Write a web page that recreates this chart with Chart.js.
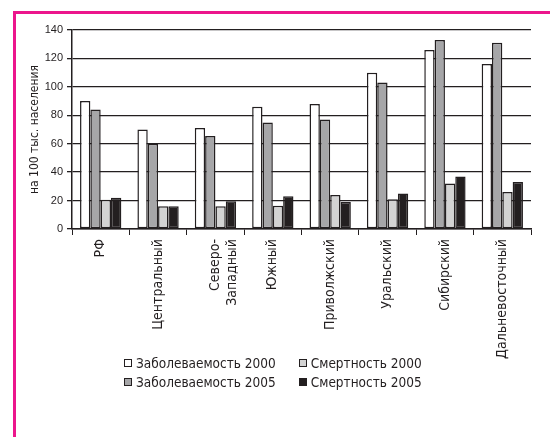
<!DOCTYPE html>
<html>
<head>
<meta charset="utf-8">
<script src="https://cdn.jsdelivr.net/npm/chart.js@4"></script>
<style>
    html, body { margin: 0; padding: 0; background: #fff; }
    .frame {
        position: absolute; left: 13px; top: 11px; right: 0; bottom: 0;
        border-left: 3px solid #ec168c; border-top: 3px solid #ec168c;
    }
    #wrap { position: absolute; left: 0; top: 0; width: 550px; height: 437px; }
    #legend {
        position: absolute; left: 124px; top: 354px;
        display: grid; grid-template-columns: auto auto; column-gap: 23px;
        font: 13.5px 'DejaVu Sans Condensed', sans-serif; color: #231f20; line-height: 19px;
    }
    .leg-item { display: flex; align-items: center; white-space: nowrap; }
    .leg-box { width: 6px; height: 6px; border: 1px solid #231f20; margin-right: 4px; margin-top: -2px; }
</style>
</head>
<body>
<div class="frame"></div>
<div id="wrap"><canvas id="chart"></canvas></div>
<div id="legend"></div>
<script>
// Федеральные округа
const regions = ['РФ', 'Центральный', ['Северо-', 'Западный'], 'Южный', 'Приволжский', 'Уральский', 'Сибирский', 'Дальневосточный'];

// на 100 тыс. населения
const morbidity2000 = [90, 70, 71, 86, 88, 110, 126, 116];
const morbidity2005 = [84, 60, 65.5, 75, 77, 103, 133, 131];
const mortality2000 = [20.5, 16, 16, 16.3, 24, 21, 32, 26];
const mortality2005 = [22, 16, 19.5, 23, 19, 25, 37, 33];

const yTicks = [0, 20, 40, 60, 80, 100, 120, 140];

const condensed = "'DejaVu Sans Condensed', sans-serif";
const ink = '#231f20';

// legend goes column-wise: 2000 on the first row, 2005 on the second
const legendOrder = [0, 2, 1, 3];

let chart;

function initChart() {
    const ds = (label, data, color) => ({
        label: label, data: data, backgroundColor: color,
        borderColor: ink, borderWidth: 1.5, borderSkipped: false
    });

    chart = new Chart(document.getElementById('chart'), {
        type: 'bar',
        data: {
            labels: regions,
            datasets: [
                ds('Заболеваемость 2000', morbidity2000, '#ffffff'),
                ds('Заболеваемость 2005', morbidity2005, '#a6a6a8'),
                ds('Смертность 2000', mortality2000, '#d3d3d3'),
                ds('Смертность 2005', mortality2005, '#231f20')
            ]
        },
        options: {
            responsive: true, maintainAspectRatio: false, animation: false,
            layout: { padding: { left: 24, right: 19, top: 30, bottom: 0 } },
            datasets: { bar: { categoryPercentage: 0.72, barPercentage: 1 } },
            plugins: {
                tooltip: { enabled: false },
                legend: { display: false }
            },
            scales: {
                x: {
                    grid: { display: true, drawOnChartArea: false, offset: true, color: ink, tickLength: 6 },
                    border: { color: ink, width: 1.5 },
                    ticks: { color: ink, maxRotation: 90, minRotation: 90, padding: 4, font: { family: condensed, size: 14 } },
                    afterFit: s => { s.height = 208; }
                },
                y: {
                    min: 0, max: 140,
                    afterBuildTicks: s => { s.ticks = yTicks.map(v => ({ value: v })); },
                    grid: { color: ink, lineWidth: 1.3, tickLength: 5 },
                    border: { color: ink, width: 1.5 },
                    ticks: { color: ink, padding: 4, font: { family: "'Liberation Sans', sans-serif", size: 11 } },
                    title: { display: true, text: 'на 100 тыс. населения', color: ink, padding: 4, font: { family: condensed, size: 12 } },
                    afterFit: s => { s.width = 48; }
                }
            }
        }
    });

    buildLegend();
}

// legend in two columns, items taken from the chart itself
function buildLegend() {
    const items = chart.options.plugins.legend.labels.generateLabels(chart)
        .sort((a, b) => legendOrder.indexOf(a.datasetIndex) - legendOrder.indexOf(b.datasetIndex));
    document.getElementById('legend').innerHTML = items.map(it => `
        <div class="leg-item"><span class="leg-box" style="background:${it.fillStyle}"></span>${it.text}</div>
    `).join('');
}

window.onload = initChart;
</script>
</body>
</html>
